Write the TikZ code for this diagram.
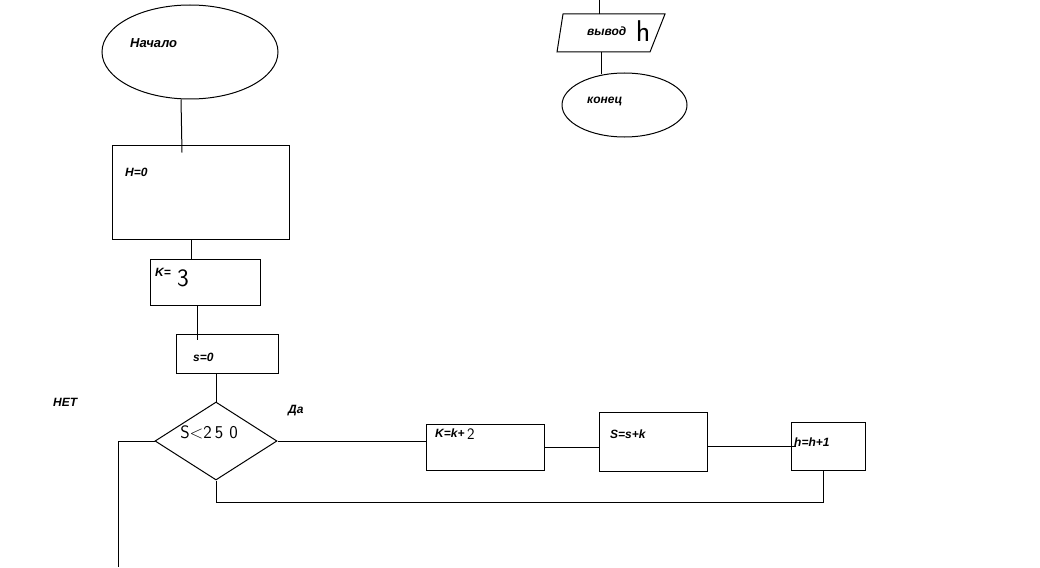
\documentclass[tikz,border=0pt]{standalone}
\usepackage{fontspec}
\setmainfont{Liberation Sans}
\usetikzlibrary{shapes.geometric,calc}
\begin{document}
\begin{tikzpicture}[x=1pt,y=-1pt,
  conn/.style={draw=black, line width=1pt},
  blk/.style={draw=black, line width=1pt, rectangle, inner sep=0pt},
  oval/.style={draw=black, line width=1pt, ellipse, inner sep=0pt},
  decis/.style={draw=black, line width=1pt, diamond, inner sep=0pt},
  lbl/.style={font=\fontsize{12}{14}\selectfont\bfseries\itshape, inner sep=0pt, anchor=west},
  hand/.style={font=\sffamily\fontsize{22}{24}\selectfont, inner sep=0pt}]
\useasboundingbox (0,0) rectangle (1040,567);
\fill[white] (0,0) rectangle (1040,567);

% nodes
\node[oval, minimum width=176pt, minimum height=94pt] (start) at (190,52) {};
\node[lbl, font=\fontsize{13}{15}\selectfont\bfseries\itshape] (tstart) at (130,43) {Начало};

\node[blk, minimum width=177pt, minimum height=94pt] (hbox) at (200.5,192) {};
\node[lbl] (th) at (125,172) {H=0};

\node[blk, minimum width=110pt, minimum height=46pt] (kbox) at (205,282) {};
\node[lbl] (tk) at (155,272) {K=};
\node[hand, font=\sffamily\fontsize{25}{27}\selectfont] (tk3) at (183,278) {3};

\node[blk, minimum width=102pt, minimum height=39pt] (sbox) at (227,353.5) {};
\node[lbl] (ts) at (193,357) {s=0};

\node[decis, minimum width=122pt, minimum height=78pt] (dec) at (216,441) {};
\node[font=\sffamily\fontsize{18}{20}\selectfont, inner sep=0pt] (tdec) at (209,432) {S<2\,5\,\,0};

\node[lbl] (tno) at (53,402) {НЕТ};
\node[lbl] (tyes) at (288,411) {Да};

\node[blk, minimum width=118pt, minimum height=46pt] (k2) at (485,447) {};
\node[lbl] (tk2) at (435,433) {K=k+};
\node[hand, font=\sffamily\fontsize{16}{18}\selectfont] (tk22) at (471,434) {2};

\node[blk, minimum width=108pt, minimum height=59pt] (ss) at (653,441.5) {};
\node[lbl] (tss) at (610,434) {S=s+k};

\node[blk, minimum width=74pt, minimum height=48pt] (hh) at (828,446) {};
\node[lbl] (thh) at (794,442) {h=h+1};

% output parallelogram
\coordinate (p1) at (563,14);
\coordinate (p2) at (665,14);
\coordinate (p3) at (650,52);
\coordinate (p4) at (557,52);
\draw[line width=1pt] (p1) -- (p2) -- (p3) -- (p4) -- cycle;
\node[lbl] (tout) at (587,31) {вывод};
\node[hand, font=\sffamily\fontsize{30}{32}\selectfont] (touth) at (643,31) {h};

\node[oval, minimum width=125pt, minimum height=64pt] (fin) at (624.5,105) {};
\node[lbl] (tfin) at (587,101) {конец};

% connectors
\coordinate (topin) at (599,0);
\draw[conn] (topin) -- (topin |- p1);
\coordinate (outb) at (601,52);
\draw[conn] (outb) -- (601,74);

\draw[conn] ([xshift=-9pt]start.south) -- ([xshift=-18.5pt,yshift=-8pt]hbox.north);
\draw[conn] ([xshift=-9.5pt]hbox.south) -- ([xshift=-14pt]kbox.north);
\draw[conn] ([xshift=-8pt]kbox.south) -- ([xshift=-30pt,yshift=-6pt]sbox.north);
\draw[conn] (sbox.south -| dec.north) -- (dec.north);

\coordinate (nobot) at (118,567);
\draw[conn] (dec.west) -- (dec.west -| nobot) -- (nobot);

\draw[conn] (dec.east) -- (k2.west |- dec.east);
\draw[conn] (k2.east) -- (k2.east -| ss.west);
\draw[conn] (hh.west -| ss.east) -- ([xshift=5pt]hh.west);
\draw[conn] ([xshift=-5pt]hh.south) -- ++(0,32) -| (dec.south);
\end{tikzpicture}
\end{document}
